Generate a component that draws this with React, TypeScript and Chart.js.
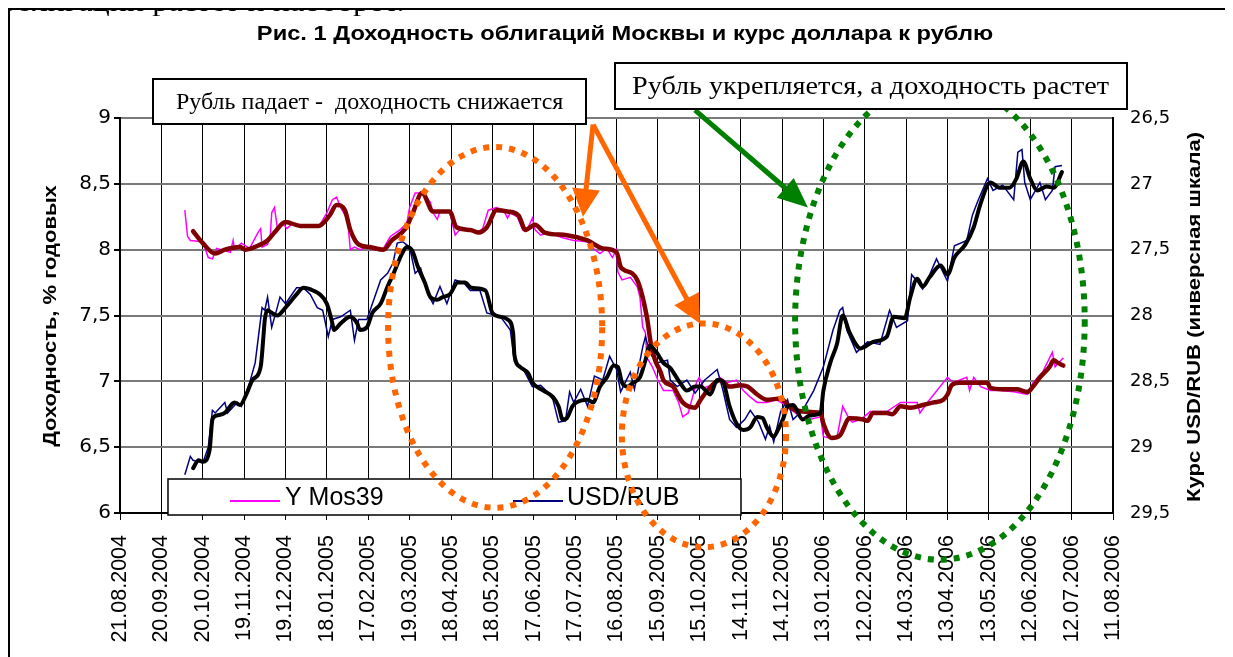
import React, { useEffect, useLayoutEffect, useRef } from "react";
import { Chart, registerables } from "chart.js";

Chart.register(...registerables);

// ---------- data ----------
// x values are days counted from 21.08.2004 (the first axis label)
const tickLabels = [
  "21.08.2004", "20.09.2004", "20.10.2004", "19.11.2004", "19.12.2004",
  "18.01.2005", "17.02.2005", "19.03.2005", "18.04.2005", "18.05.2005",
  "17.06.2005", "17.07.2005", "16.08.2005", "15.09.2005", "15.10.2005",
  "14.11.2005", "14.12.2005", "13.01.2006", "12.02.2006", "14.03.2006",
  "13.04.2006", "13.05.2006", "12.06.2006", "12.07.2006", "11.08.2006",
];

const yieldRawDay = [
  47, 49, 51, 60, 64, 67, 70, 80, 82, 83,
  88, 94, 100, 102, 103, 107, 109, 110, 112, 114,
  118, 121, 125, 133, 140, 145, 150, 154, 157, 160,
  165, 167, 170, 174, 179, 183, 191, 196, 203, 208,
  210, 214, 220, 225, 227, 230, 232, 239, 243, 247,
  254, 259, 263, 267, 273, 278, 281, 283, 288, 290,
  292, 296, 299, 301, 305, 310, 321, 329, 339, 343,
  348, 353, 357, 360, 361, 364, 370, 375, 377, 379,
  381, 382, 386, 390, 394, 401, 405, 408, 412, 418,
  420, 423, 429, 435, 440, 447, 452, 457, 462, 469,
  476, 484, 493, 500, 508, 510, 515, 520, 524, 529,
  531, 537, 544, 556, 566, 578, 580, 587, 600, 604,
  614, 616, 619, 624, 631, 638, 648, 658, 662, 669,
  676, 678, 684,
];
const yieldRawVal = [
  8.30, 8.10, 8.07, 8.06, 7.94, 7.93, 8.01, 7.98, 8.07, 8.00,
  8.05, 8.01, 8.13, 8.16, 8.02, 8.04, 8.11, 8.28, 8.32, 8.17,
  8.20, 8.16, 8.20, 8.17, 8.17, 8.19, 8.28, 8.38, 8.40, 8.32,
  8.23, 8.00, 8.02, 8.00, 8.02, 8.00, 8.01, 8.10, 8.15, 8.20,
  8.32, 8.43, 8.43, 8.36, 8.28, 8.23, 8.29, 8.29, 8.11, 8.16,
  8.15, 8.13, 8.16, 8.30, 8.32, 8.30, 8.24, 8.28, 8.25, 8.20,
  8.15, 8.17, 8.24, 8.15, 8.11, 8.13, 8.09, 8.07, 8.06, 8.01,
  7.97, 8.01, 7.94, 8.00, 7.83, 7.77, 7.79, 7.72, 7.64, 7.41,
  7.37, 7.18, 7.11, 7.01, 6.93, 6.93, 6.84, 6.73, 6.76, 6.99,
  7.03, 6.95, 6.97, 7.03, 6.99, 7.01, 6.93, 6.88, 6.84, 6.84,
  6.86, 6.81, 6.73, 6.71, 6.73, 6.58, 6.57, 6.58, 6.81, 6.71,
  6.69, 6.71, 6.77, 6.77, 6.84, 6.84, 6.76, 6.86, 7.03, 6.99,
  7.03, 6.93, 7.03, 6.96, 6.93, 6.93, 6.92, 6.90, 6.99, 7.07,
  7.22, 7.11, 7.18,
];

const yieldAvgDay = [
  53, 60, 69, 76, 87, 91, 100, 107, 112, 120,
  131, 144, 152, 157, 163, 167, 173, 181, 191, 197,
  207, 212, 219, 227, 239, 244, 254, 260, 266, 273,
  281, 289, 294, 301, 308, 324, 339, 350, 360, 363,
  365, 375, 382, 385, 388, 392, 394, 401, 408, 417,
  421, 426, 435, 442, 450, 455, 462, 469, 479, 486,
  495, 508, 510, 516, 522, 529, 539, 542, 546, 556,
  560, 566, 573, 582, 590, 597, 600, 603, 608, 619,
  629, 631, 640, 650, 658, 662, 667, 674, 677, 680,
  684,
];
const yieldAvgVal = [
  8.14, 8.05, 7.97, 8.00, 8.02, 8.00, 8.03, 8.07, 8.13, 8.21,
  8.18, 8.18, 8.26, 8.34, 8.30, 8.15, 8.04, 8.02, 8.00, 8.07,
  8.16, 8.27, 8.43, 8.29, 8.29, 8.17, 8.15, 8.13, 8.17, 8.30,
  8.29, 8.26, 8.15, 8.19, 8.13, 8.11, 8.07, 8.01, 7.98, 7.87,
  7.85, 7.77, 7.49, 7.28, 7.16, 7.07, 7.01, 6.96, 6.84, 6.80,
  6.86, 6.93, 7.01, 6.96, 6.97, 6.96, 6.90, 6.86, 6.87, 6.80,
  6.77, 6.76, 6.68, 6.57, 6.59, 6.72, 6.71, 6.70, 6.76, 6.76,
  6.75, 6.81, 6.80, 6.82, 6.84, 6.86, 6.90, 6.97, 6.99, 6.99,
  6.99, 6.95, 6.94, 6.94, 6.92, 6.96, 7.03, 7.11, 7.16, 7.14,
  7.12,
];

const usdRawDay = [
  47, 51, 53, 60, 64, 67, 69, 76, 78, 85,
  88, 94, 98, 103, 105, 107, 110, 114, 116, 120,
  128, 133, 138, 143, 147, 151, 154, 160, 167, 170,
  173, 179, 183, 189, 194, 198, 201, 205, 210, 214,
  218, 223, 227, 232, 237, 243, 249, 254, 261, 266,
  276, 283, 286, 292, 299, 305, 310, 314, 318, 323,
  326, 329, 334, 339, 344, 350, 355, 360, 363, 370,
  373, 379, 381, 384, 389, 397, 399, 404, 411, 417,
  424, 433, 437, 442, 447, 453, 457, 463, 468, 471,
  474, 479, 484, 488, 495, 503, 510, 517, 522, 524,
  527, 534, 542, 551, 558, 563, 571, 574, 578, 582,
  585, 592, 600, 605, 614, 618, 622, 629, 633, 640,
  648, 651, 654, 656, 660, 667, 671, 676, 678, 683,
];
const usdRawVal = [
  29.21, 29.07, 29.10, 29.12, 29.00, 28.72, 28.74, 28.66, 28.74, 28.66,
  28.69, 28.51, 28.36, 27.94, 27.96, 27.86, 28.09, 27.94, 27.86, 27.91,
  27.79, 27.79, 27.84, 27.94, 27.96, 28.16, 28.03, 28.01, 27.96, 28.19,
  28.03, 28.03, 27.91, 27.73, 27.68, 27.60, 27.45, 27.44, 27.48, 27.68,
  27.64, 27.83, 27.91, 27.78, 27.91, 27.73, 27.75, 27.81, 27.81, 27.98,
  28.01, 28.11, 28.35, 28.40, 28.54, 28.53, 28.58, 28.64, 28.81, 28.80,
  28.58, 28.66, 28.56, 28.69, 28.46, 28.49, 28.31, 28.41, 28.58, 28.43,
  28.56, 28.24, 28.16, 28.28, 28.36, 28.34, 28.49, 28.54, 28.49, 28.59,
  28.49, 28.41, 28.56, 28.79, 28.85, 28.79, 28.72, 28.81, 28.94, 28.84,
  28.96, 28.73, 28.64, 28.79, 28.72, 28.57, 28.39, 28.11, 27.96, 27.94,
  28.11, 28.28, 28.20, 28.22, 27.96, 28.09, 28.04, 27.69, 27.74, 27.80,
  27.74, 27.57, 27.74, 27.47, 27.43, 27.24, 27.13, 26.96, 27.05, 27.01,
  27.12, 26.76, 26.74, 26.99, 27.12, 26.99, 27.12, 27.05, 26.87, 26.86,
];

const usdAvgDay = [
  53, 57, 60, 65, 67, 70, 76, 83, 87, 92,
  96, 102, 104, 105, 107, 110, 114, 120, 128, 133,
  140, 145, 150, 154, 155, 160, 167, 172, 174, 179,
  183, 189, 194, 198, 205, 208, 212, 216, 221, 225,
  230, 234, 239, 245, 250, 255, 265, 270, 276, 281,
  285, 286, 290, 296, 299, 307, 314, 318, 321, 324,
  328, 331, 339, 343, 348, 353, 358, 361, 364, 368,
  372, 377, 381, 384, 389, 394, 399, 406, 411, 417,
  421, 428, 433, 437, 442, 447, 452, 457, 462, 466,
  469, 474, 477, 481, 484, 488, 495, 500, 508, 510,
  515, 520, 524, 529, 537, 546, 556, 561, 569, 573,
  578, 582, 587, 595, 600, 605, 613, 619, 624, 631,
  638, 645, 650, 655, 660, 665, 672, 677, 683,
];
const usdAvgVal = [
  29.16, 29.10, 29.11, 29.02, 28.79, 28.76, 28.74, 28.66, 28.68, 28.59,
  28.49, 28.39, 28.16, 28.03, 27.96, 27.98, 28.00, 27.94, 27.84, 27.79,
  27.81, 27.84, 27.91, 28.06, 28.11, 28.06, 28.01, 28.06, 28.11, 28.09,
  27.98, 27.91, 27.78, 27.69, 27.52, 27.48, 27.51, 27.63, 27.75, 27.86,
  27.88, 27.86, 27.84, 27.75, 27.75, 27.79, 27.81, 27.98, 28.01, 28.03,
  28.13, 28.30, 28.39, 28.44, 28.51, 28.57, 28.62, 28.69, 28.79, 28.78,
  28.69, 28.66, 28.64, 28.66, 28.54, 28.47, 28.38, 28.39, 28.51, 28.54,
  28.51, 28.47, 28.34, 28.23, 28.28, 28.36, 28.40, 28.51, 28.57, 28.54,
  28.54, 28.60, 28.49, 28.50, 28.69, 28.82, 28.87, 28.85, 28.77, 28.78,
  28.85, 28.92, 28.87, 28.78, 28.69, 28.68, 28.79, 28.76, 28.74, 28.57,
  28.36, 28.21, 28.00, 28.13, 28.25, 28.20, 28.16, 28.01, 28.02, 27.86,
  27.72, 27.78, 27.71, 27.62, 27.69, 27.56, 27.46, 27.33, 27.15, 26.99,
  27.03, 27.03, 26.96, 26.83, 26.96, 27.05, 27.02, 27.03, 26.91,
];

const legendSeries = ["Y Mos39", "USD/RUB"];

// annotation shapes, in data units (days / yield %)
const ellipses = [
  { cx: 272, cy: 7.41, rx: 77.6, ry: 1.37, color: "#FF6600" },
  { cx: 423.4, cy: 6.59, rx: 59.5, ry: 0.85, color: "#FF6600" },
  { cx: 594.5, cy: 7.46, rx: 105, ry: 1.815, color: "#008000" },
];
const arrows = [
  { x1: 343, y1: 8.95, x2: 335.7, y2: 8.25, color: "#FF6600", head: 28, half: 14 },
  { x1: 343, y1: 8.95, x2: 420.5, y2: 7.44, color: "#FF6600", head: 28, half: 14 },
  { x1: 416.9, y1: 9.06, x2: 498.8, y2: 8.32, color: "#008000", head: 30, half: 13 },
];

const SANS = '"Liberation Sans", Arial, sans-serif';
const SERIF = '"Liberation Serif", "Times New Roman", serif';

const fmtComma = (v: number) => String(Math.round(v * 10) / 10).replace(".", ",");
const toPts = (d: number[], v: number[]) => d.map((x, i) => ({ x, y: v[i] }));

const overlayPlugin = {
  id: "overlay",
  afterDraw(chart: any) {
    const { ctx, chartArea: a, scales } = chart;
    const xs = scales.x;
    const ys = scales.y;
    ctx.save();
    // legend box
    const lx = a.left + 48;
    const ly = a.bottom - 34;
    const lw = 573;
    const lh = 36;
    ctx.fillStyle = "#ffffff";
    ctx.fillRect(lx, ly, lw, lh);
    ctx.strokeStyle = "#000000";
    ctx.lineWidth = 1.5;
    ctx.strokeRect(lx, ly, lw, lh);
    const slots = [
      { line: 62, text: 117 },
      { line: 345, text: 399 },
    ];
    legendSeries.forEach((name, i) => {
      const ds = chart.data.datasets.find((d: any) => d.label === name);
      const s = slots[i];
      ctx.strokeStyle = ds.borderColor;
      ctx.lineWidth = 2;
      ctx.beginPath();
      ctx.moveTo(lx + s.line, ly + 22);
      ctx.lineTo(lx + s.line + 50, ly + 22);
      ctx.stroke();
      ctx.fillStyle = "#000";
      ctx.font = `25px ${SANS}`;
      ctx.textBaseline = "middle";
      ctx.textAlign = "left";
      ctx.fillText(name, lx + s.text, ly + 19);
    });
    // dotted ellipses
    ellipses.forEach((e) => {
      const cx = xs.getPixelForValue(e.cx);
      const cy = ys.getPixelForValue(e.cy);
      const rx = Math.abs(xs.getPixelForValue(e.cx + e.rx) - cx);
      const ry = Math.abs(ys.getPixelForValue(e.cy + e.ry) - cy);
      ctx.beginPath();
      ctx.ellipse(cx, cy, rx, ry, 0, 0, Math.PI * 2);
      ctx.setLineDash([6, 7]);
      ctx.lineCap = "butt";
      ctx.lineWidth = 6;
      ctx.strokeStyle = e.color;
      ctx.stroke();
    });
    ctx.setLineDash([]);
    // arrows
    arrows.forEach((r) => {
      const x1 = xs.getPixelForValue(r.x1);
      const y1 = ys.getPixelForValue(r.y1);
      const x2 = xs.getPixelForValue(r.x2);
      const y2 = ys.getPixelForValue(r.y2);
      const ang = Math.atan2(y2 - y1, x2 - x1);
      const c = Math.cos(ang);
      const s = Math.sin(ang);
      const bx = x2 - r.head * c;
      const by = y2 - r.head * s;
      ctx.strokeStyle = r.color;
      ctx.fillStyle = r.color;
      ctx.lineWidth = 5;
      ctx.beginPath();
      ctx.moveTo(x1, y1);
      ctx.lineTo(bx + 2 * c, by + 2 * s);
      ctx.stroke();
      ctx.beginPath();
      ctx.moveTo(x2, y2);
      ctx.lineTo(bx + r.half * s, by - r.half * c);
      ctx.lineTo(bx - r.half * s, by + r.half * c);
      ctx.closePath();
      ctx.fill();
    });
    ctx.restore();
  },
};

function FitText(props: {
  text: string;
  width: number;
  style: React.CSSProperties;
  origin?: string;
}) {
  const ref = useRef<HTMLSpanElement>(null);
  useLayoutEffect(() => {
    const el = ref.current;
    if (!el) return;
    el.style.transform = "none";
    const w = el.offsetWidth;
    if (w > 0) el.style.transform = `scaleX(${props.width / w})`;
  }, [props.text, props.width]);
  return (
    <span
      ref={ref}
      style={{
        display: "inline-block",
        whiteSpace: "pre",
        transformOrigin: props.origin || "center",
        ...props.style,
      }}
    >
      {props.text}
    </span>
  );
}

export default function App() {
  const canvasRef = useRef<HTMLCanvasElement>(null);

  useEffect(() => {
    const canvas = canvasRef.current;
    if (!canvas) return;
    const chart = new Chart(canvas, {
      type: "line",
      data: {
        datasets: [
          {
            label: "USD/RUB avg",
            data: toPts(usdAvgDay, usdAvgVal),
            yAxisID: "y2",
            borderColor: "#000000",
            borderWidth: 4,
            cubicInterpolationMode: "monotone",
            borderJoinStyle: "round",
            borderCapStyle: "round",
          },
          {
            label: "Y Mos39 avg",
            data: toPts(yieldAvgDay, yieldAvgVal),
            yAxisID: "y",
            borderColor: "#800000",
            borderWidth: 4.5,
            cubicInterpolationMode: "monotone",
            borderJoinStyle: "round",
            borderCapStyle: "round",
          },
          {
            label: "USD/RUB",
            data: toPts(usdRawDay, usdRawVal),
            yAxisID: "y2",
            borderColor: "#000080",
            borderWidth: 1.5,
            tension: 0,
          },
          {
            label: "Y Mos39",
            data: toPts(yieldRawDay, yieldRawVal),
            yAxisID: "y",
            borderColor: "#FF00FF",
            borderWidth: 1.5,
            tension: 0,
          },
        ],
      },
      options: {
        animation: false,
        responsive: false,
        layout: { padding: { top: 110, left: 0, right: 0, bottom: 0 } },
        elements: { point: { radius: 0 } },
        plugins: { legend: { display: false }, tooltip: { enabled: false } },
        scales: {
          x: {
            type: "linear",
            min: 0,
            max: 720,
            ticks: {
              stepSize: 30,
              autoSkip: false,
              maxRotation: 90,
              minRotation: 90,
              padding: 15,
              color: "#000",
              font: { family: SANS, size: 21.5 },
              callback: (v: any) => tickLabels[Math.round(Number(v) / 30)] ?? "",
            },
            grid: { color: "#000", lineWidth: 1, tickLength: 7, tickColor: "#000" },
            border: { color: "#000", width: 2 },
            afterFit: (s: any) => {
              s.height = 144;
            },
          },
          y: {
            position: "left",
            min: 6,
            max: 9,
            ticks: {
              stepSize: 0.5,
              padding: 3,
              color: "#000",
              font: { family: '"DejaVu Sans"', size: 20 },
              callback: (v: any) => fmtComma(Number(v)),
            },
            grid: { color: "#7a7a7a", lineWidth: 2, tickLength: 6, tickColor: "#000" },
            border: { color: "#000", width: 2 },
            afterFit: (s: any) => {
              s.width = 112;
            },
          },
          y2: {
            position: "right",
            min: 26.5,
            max: 29.5,
            reverse: true,
            ticks: {
              stepSize: 0.5,
              padding: 17,
              color: "#000",
              font: { family: '"DejaVu Sans"', size: 18 },
              callback: (v: any) => fmtComma(Number(v)),
            },
            grid: { drawOnChartArea: false, drawTicks: false },
            border: { color: "#000", width: 2 },
            afterFit: (s: any) => {
              s.width = 120;
            },
          },
        },
      },
      plugins: [overlayPlugin],
    } as any);
    return () => chart.destroy();
  }, []);

  const boxStyle: React.CSSProperties = {
    position: "absolute",
    boxSizing: "border-box",
    border: "2px solid #000",
    background: "#fff",
    display: "flex",
    alignItems: "center",
    justifyContent: "center",
    zIndex: 3,
  };

  const centered = (cx: number, cy: number, rot: number): React.CSSProperties => ({
    position: "absolute",
    left: cx,
    top: cy,
    transform: `translate(-50%, -50%) rotate(${rot}deg)`,
    whiteSpace: "nowrap",
    zIndex: 3,
    lineHeight: 1.15,
  });

  return (
    <div style={{ position: "relative", width: 1225, height: 649 }}>
      <style>{"html{overflow:hidden}"}</style>
      <canvas
        ref={canvasRef}
        width={1225}
        height={649}
        style={{ position: "absolute", left: 0, top: 0, width: 1225, height: 649 }}
      />
      <div
        style={{
          position: "absolute",
          left: -8,
          top: -20,
          lineHeight: "30px",
          height: 30,
          zIndex: 1,
          color: "#000",
        }}
      >
        <FitText
          text="облигаций растет и наоборот."
          width={404}
          origin="left"
          style={{ fontFamily: SERIF, fontSize: 26 }}
        />
      </div>
      <div
        style={{
          position: "absolute",
          left: 0,
          top: 0,
          width: 2000,
          height: 2000,
          borderTop: "2px solid #000",
          borderLeft: "2px solid #000",
          background: "transparent",
          zIndex: 2,
          pointerEvents: "none",
        }}
      />
      <div style={centered(617, 25, 0)}>
        <FitText
          text="Рис. 1 Доходность облигаций Москвы и курс доллара к рублю"
          width={736}
          style={{ fontFamily: SANS, fontSize: 20, fontWeight: "bold" }}
        />
      </div>
      <div style={centered(42, 308, -90)}>
        <FitText
          text="Доходность, % годовых"
          width={262}
          style={{ fontFamily: SANS, fontSize: 19, fontWeight: "bold" }}
        />
      </div>
      <div style={centered(1186, 309, -90)}>
        <FitText
          text="Курс USD/RUB (инверсная шкала)"
          width={370}
          style={{ fontFamily: SANS, fontSize: 19, fontWeight: "bold" }}
        />
      </div>
      <div style={{ ...boxStyle, left: 144, top: 70, width: 435, height: 47 }}>
        <FitText
          text="Рубль падает -  доходность снижается"
          width={387}
          style={{ fontFamily: SERIF, fontSize: 23 }}
        />
      </div>
      <div style={{ ...boxStyle, left: 606, top: 54, width: 514, height: 48 }}>
        <FitText
          text="Рубль укрепляется, а доходность растет"
          width={477}
          style={{ fontFamily: SERIF, fontSize: 25 }}
        />
      </div>
    </div>
  );
}
